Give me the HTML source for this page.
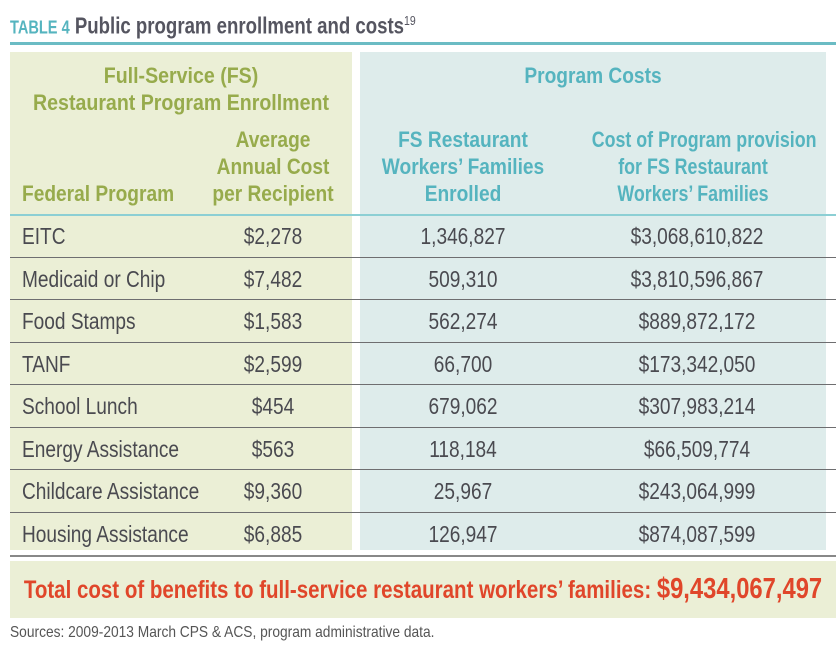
<!DOCTYPE html>
<html><head><meta charset="utf-8"><style>
body{margin:0;width:836px;height:652px;background:#fff;position:relative;overflow:hidden;font-family:"Liberation Sans",sans-serif;}
div{position:absolute;}
.t{white-space:nowrap;}
.g{color:#97ab4c;font-weight:bold;font-size:22px;line-height:27px;text-align:center;transform:scaleX(0.87);}
.b{color:#55b4bf;font-weight:bold;font-size:22px;line-height:27px;text-align:center;transform:scaleX(0.87);}
.c{color:#4a4a50;font-size:23px;line-height:42.5px;transform:scaleX(0.83);}
.hl{left:10px;width:826px;height:1px;background:#6e6e70;}
</style></head><body>
<div class="t" style="left:10px;top:6px;font-size:23px;font-weight:bold;color:#555560;line-height:30px;transform:scaleX(0.81);transform-origin:left"><span style="color:#55b4bf;font-size:18px">TABLE 4</span> Public program enrollment and costs<sup style="font-weight:normal;font-size:13px">19</sup></div>
<div style="left:10px;top:42px;width:826px;height:3px;background:#6bbcc4"></div>
<div style="left:10px;top:52px;width:342px;height:498px;background:#ebefd6"></div>
<div style="left:360px;top:52px;width:466px;height:498px;background:#deeceb"></div>
<div class="g t" style="left:10px;top:62px;width:342px;transform:scaleX(0.89)">Full-Service (FS)<br>Restaurant Program Enrollment</div>
<div class="g t" style="left:22px;top:180px;text-align:left;transform-origin:left">Federal Program</div>
<div class="g t" style="left:193px;top:126px;width:160px">Average<br>Annual Cost<br>per Recipient</div>
<div class="b t" style="left:360px;top:62px;width:466px">Program Costs</div>
<div class="b t" style="left:363px;top:126px;width:200px">FS Restaurant<br>Workers’ Families<br>Enrolled</div>
<div class="b t" style="left:568px;top:126px;width:250px;transform:scaleX(0.81)">Cost of Program provision<br>for FS Restaurant<br>Workers’ Families</div>
<div style="left:10px;top:214px;width:826px;height:2px;background:#8ccfd4"></div>
<div class="hl" style="top:257px"></div><div class="hl" style="top:299px"></div><div class="hl" style="top:342px"></div><div class="hl" style="top:384px"></div><div class="hl" style="top:427px"></div><div class="hl" style="top:469px"></div><div class="hl" style="top:512px"></div>
<div class="c t" style="left:22px;top:215px;transform-origin:left">EITC<br>Medicaid or Chip<br>Food Stamps<br>TANF<br>School Lunch<br>Energy Assistance<br>Childcare Assistance<br>Housing Assistance</div>
<div class="c t" style="left:193px;top:215px;width:160px;text-align:center">$2,278<br>$7,482<br>$1,583<br>$2,599<br>$454<br>$563<br>$9,360<br>$6,885</div>
<div class="c t" style="left:363px;top:215px;width:200px;text-align:center">1,346,827<br>509,310<br>562,274<br>66,700<br>679,062<br>118,184<br>25,967<br>126,947</div>
<div class="c t" style="left:572px;top:215px;width:250px;text-align:center">$3,068,610,822<br>$3,810,596,867<br>$889,872,172<br>$173,342,050<br>$307,983,214<br>$66,509,774<br>$243,064,999<br>$874,087,599</div>
<div style="left:10px;top:555px;width:826px;height:2px;background:#888"></div>
<div style="left:10px;top:561px;width:826px;height:57px;background:#ebefd6"></div>
<div class="t" style="left:-100px;top:561px;width:1046px;text-align:center;line-height:57px;color:#e0462a;font-weight:bold;font-size:25px;transform:scaleX(0.82)">Total cost of benefits to full-service restaurant workers’ families: <span style="font-size:29px">$9,434,067,497</span></div>
<div class="t" style="left:10px;top:623px;font-size:16px;color:#555;line-height:20px;transform:scaleX(0.86);transform-origin:left">Sources: 2009-2013 March CPS &amp; ACS, program administrative data.</div>
</body></html>
